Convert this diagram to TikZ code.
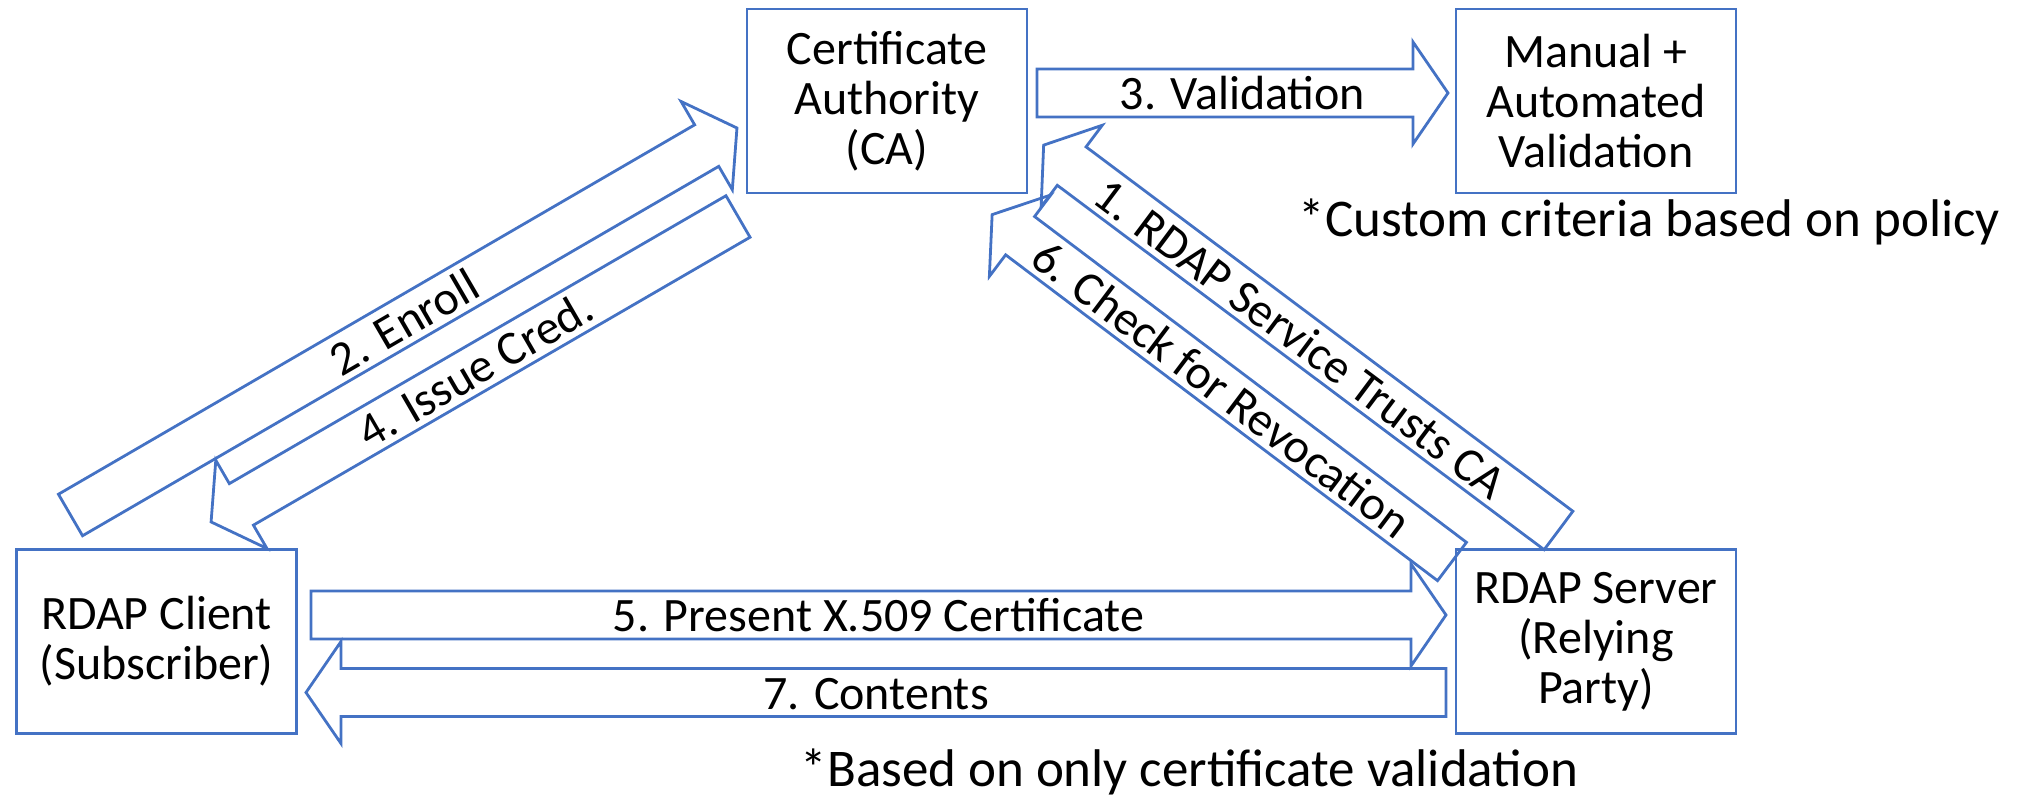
\documentclass[tikz,border=0pt]{standalone}
\usepackage{fontspec}
\setmainfont{Carlito}
\usetikzlibrary{calc}
\definecolor{boxblue}{RGB}{68,114,196}

\tikzset{every picture/.style={line width=2.8pt}}
\tikzset{
  box/.style={draw=boxblue, rectangle, minimum width=280pt, minimum height=184pt, inner sep=0pt, align=center, font=\fontsize{48}{50}\selectfont},
  arrowline/.style={draw=boxblue, line join=miter},
  arrowlabel/.style={inner sep=0pt, text height=41pt, text depth=7pt, font=\fontsize{48}{50}\selectfont},
  note/.style={anchor=base, inner sep=0pt, font=\fontsize{53}{55}\selectfont}
}

% block arrow from tail to tip: #1 label name, #2 tail, #3 tip, #4 text
\newcommand{\blockarrow}[4]{%
  \path let \p1=(#2), \p2=(#3) in
    \pgfextra{\pgfmathparse{atan2(\y2-\y1,\x2-\x1)}\xdef\arrowangle{\pgfmathresult}%
      \pgfmathparse{veclen(\x2-\x1,\y2-\y1)}\xdef\arrowlength{\pgfmathresult}};
  \pgfmathsetmacro{\labelangle}{\arrowangle>90 ? \arrowangle-180 : (\arrowangle<-90 ? \arrowangle+180 : \arrowangle)}
  \begin{scope}[shift={(#2)}, rotate=\arrowangle]
    \draw[arrowline] (0,-24) -- ({\arrowlength-35},-24) -- ({\arrowlength-35},-51) -- (\arrowlength,0)
      -- ({\arrowlength-35},51) -- ({\arrowlength-35},24) -- (0,24) -- cycle;
    \node[arrowlabel, rotate=\labelangle] (#1) at ({\arrowlength/2},0) {#4};
  \end{scope}
}

\begin{document}
\begin{tikzpicture}[x=1pt,y=1pt]
\useasboundingbox (0,0) rectangle (2029,797);

%Shape: Rectangle
\node[box] (ca) at (887,696) {Certificate\\Authority\\(CA)};
%Shape: Rectangle
\node[box] (manual) at (1596,696) {Manual +\\Automated\\Validation};
%Shape: Rectangle
\node[box] (client) at (156.5,155.5) {RDAP Client\\(Subscriber)};
%Shape: Rectangle
\node[box] (server) at (1596,155.5) {RDAP Server\\(Relying\\Party)};

%Arrow ends
\coordinate (trusts tail) at (1558.5,266.5);
\coordinate (trusts tip) at (1043.5,652);
\coordinate (enroll tail) at (70.5,282);
\coordinate (enroll tip) at (737,669);
\coordinate (validation tail) at (1037,704);
\coordinate (validation tip) at (1448,704);
\coordinate (issue tail) at (738,580.5);
\coordinate (issue tip) at (211,275);
\coordinate (present tail) at (311,182);
\coordinate (present tip) at (1446,182);
\coordinate (revocation tail) at (1452,235.5);
\coordinate (revocation tip) at (992,582.5);
\coordinate (contents tail) at (1446,104.5);
\coordinate (contents tip) at (306,104.5);

%Block Arrows
\blockarrow{trusts}{trusts tail}{trusts tip}{1. RDAP Service Trusts CA}
\blockarrow{enroll}{enroll tail}{enroll tip}{2. Enroll}
\blockarrow{validation}{validation tail}{validation tip}{3. Validation}
\blockarrow{issue}{issue tail}{issue tip}{4. Issue Cred.}
\blockarrow{present}{present tail}{present tip}{5. Present X.509 Certificate}
\blockarrow{revocation}{revocation tail}{revocation tip}{6. Check for Revocation}
\blockarrow{contents}{contents tail}{contents tip}{7. Contents}

% Text Node
\node[note] (criteria) at (1649.5,560) {*Custom criteria based on policy};
% Text Node
\node[note] (basedon) at (1189.5,10) {*Based on only certificate validation};

\end{tikzpicture}
\end{document}
